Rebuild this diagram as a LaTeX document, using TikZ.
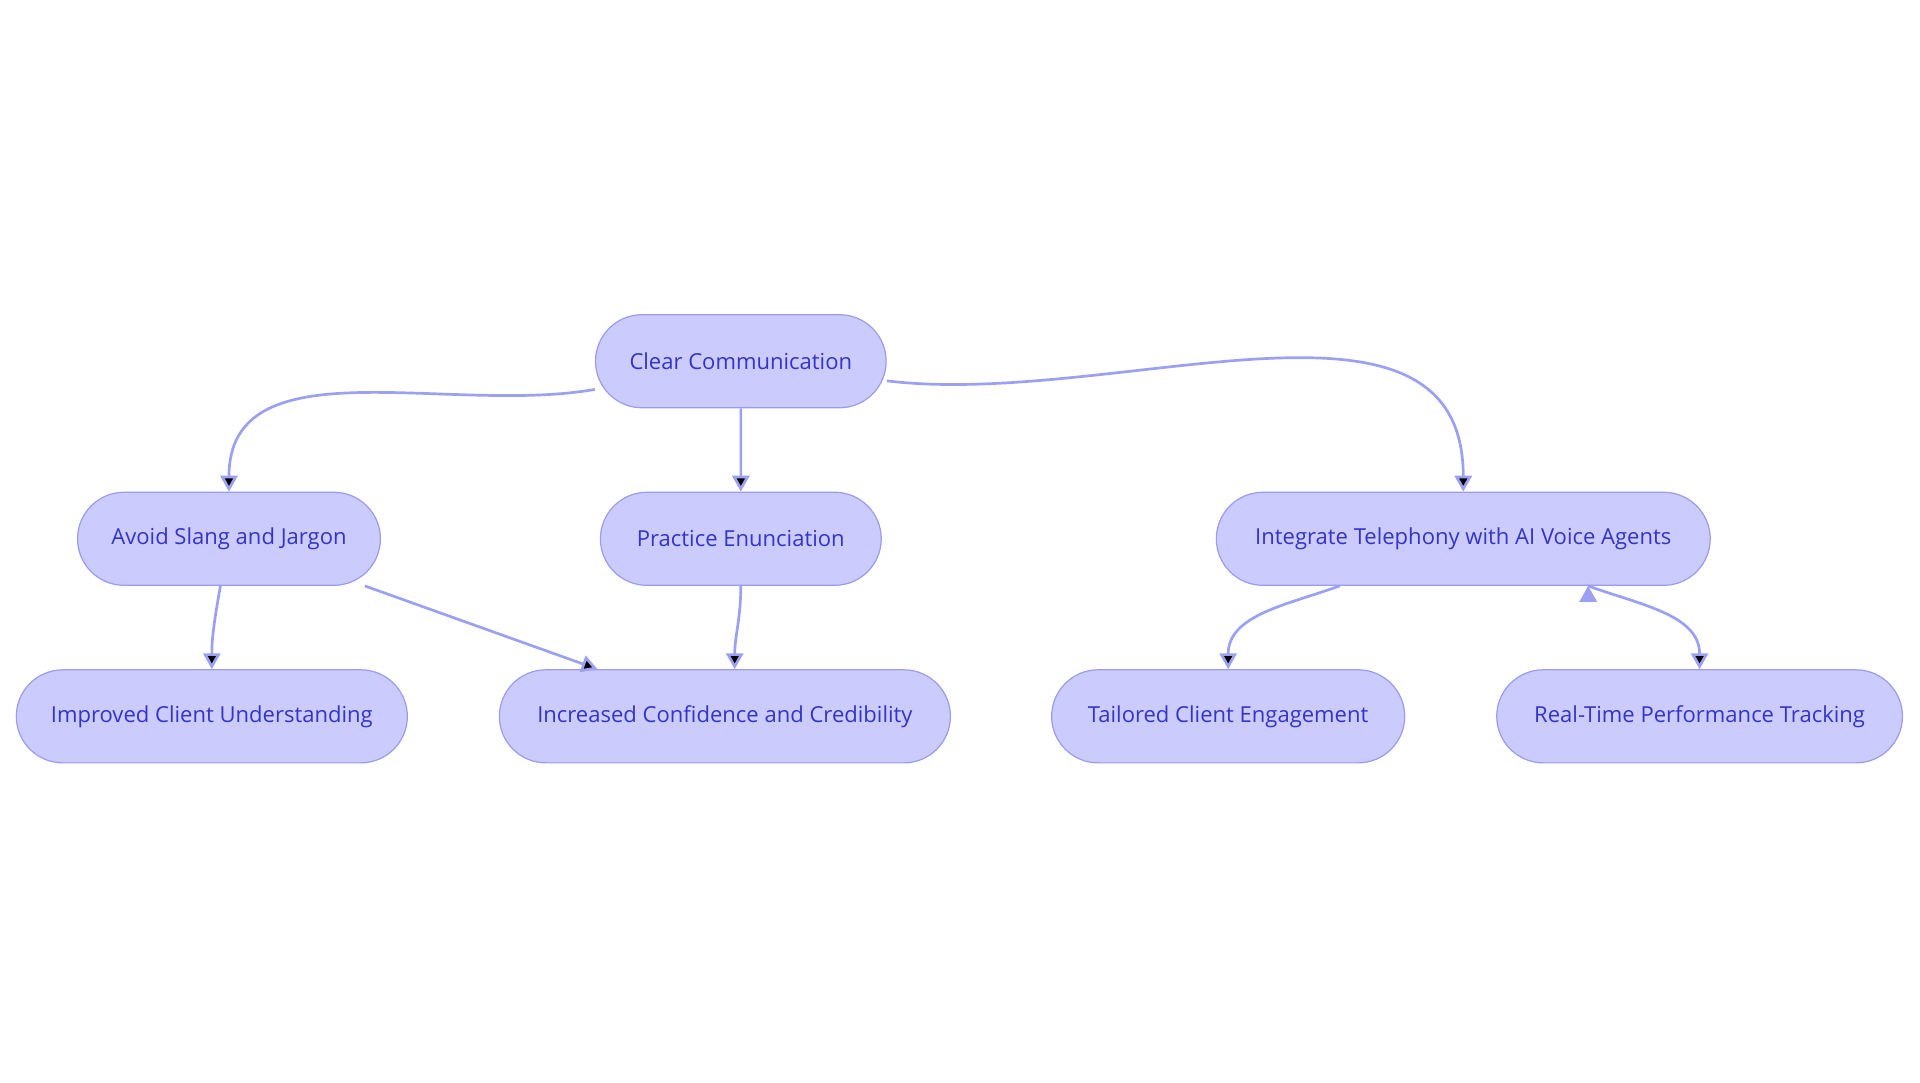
\documentclass[tikz,border=0pt]{standalone}
\usepackage{fontspec}
\setmainfont{Open Sans}
\usetikzlibrary{shapes.misc,arrows.meta,positioning}
\definecolor{boxfill}{HTML}{CBCBFD}
\definecolor{boxline}{HTML}{9C9CEE}
\definecolor{boxtext}{HTML}{3434C8}
\definecolor{linkline}{HTML}{9CA0F2}
\tikzset{
  topic/.style={rounded rectangle,draw=boxline,fill=boxfill,text=boxtext,
    minimum height=76pt,line width=1pt,font=\fontsize{18}{22}\selectfont},
  link/.style={draw=linkline,line width=2.2pt,-{Triangle[length=13pt,width=14pt]}}
}
\begin{document}
\begin{tikzpicture}[x=1pt,y=-1pt]
   \useasboundingbox (0,0) rectangle (1568,884);
   \node[topic,minimum width=244pt] (clear)    at (605,295)  {Clear Communication};
   \node[topic,minimum width=254pt] (slang)    at (187,440)  {Avoid Slang and Jargon};
   \node[topic,minimum width=236pt] (enunc)    at (605,440)  {Practice Enunciation};
   \node[topic,minimum width=410pt] (tele)     at (1195,440) {Integrate Telephony with AI Voice Agents};
   \node[topic,minimum width=326pt] (underst)  at (173,585)  {Improved Client Understanding};
   \node[topic,minimum width=375pt] (confid)   at (592,585)  {Increased Confidence and Credibility};
   \node[topic,minimum width=295pt] (engage)   at (1003,585) {Tailored Client Engagement};
   \node[topic,minimum width=338pt] (tracking) at (1388,585) {Real-Time Performance Tracking};
    \path[link]
    ([yshift=-23pt]clear.west) edge [out=190,in=90] (slang.north)
    (clear) edge (enunc)
    ([yshift=-16pt]clear.east) edge [out=-7,in=90] (tele.north)
    ([xshift=-7pt]slang.south) edge [out=-100,in=90] (underst.north)
    ([xshift=111pt]slang.south) edge ([xshift=-104pt]confid.north)
    (enunc.south) edge [out=-90,in=90] ([xshift=8pt]confid.north)
    ([xshift=-101pt]tele.south) edge [out=200,in=90] (engage.north)
    ([xshift=102pt]tele.south) edge [out=-20,in=90] (tracking.north);
\end{tikzpicture}
\end{document}
